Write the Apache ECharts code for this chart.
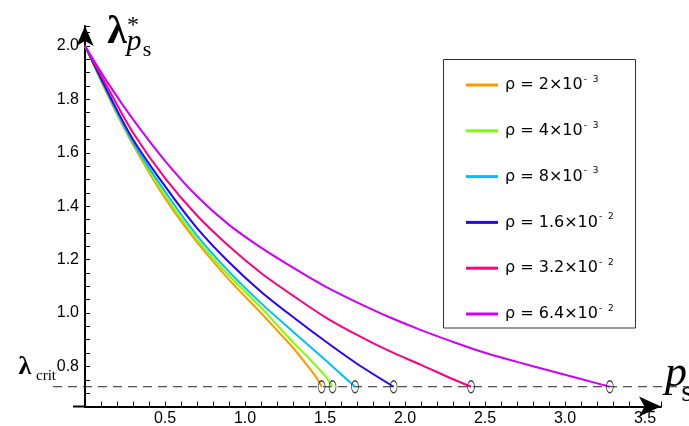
<!DOCTYPE html>
<html>
<head>
<meta charset="utf-8">
<script src="https://cdn.jsdelivr.net/npm/echarts@6/dist/echarts.min.js"></script>
<style>
html, body { margin: 0; padding: 0; background: #fff; }
#main { width: 689px; height: 426px; }
</style>
</head>
<body>
<div id="main"></div>
<script>
// critical lambda (dashed line) and axis ticks
var lambdaCrit = 0.724;
var yLabelValues = [0.8, 1.0, 1.2, 1.4, 1.6, 1.8, 2.0];
var xLabelValues = [0.5, 1.0, 1.5, 2.0, 2.5, 3.0, 3.5];

// legend text: mantissa + exponent
var rhoNames = ['ρ = 2×10', 'ρ = 4×10', 'ρ = 8×10', 'ρ = 1.6×10', 'ρ = 3.2×10', 'ρ = 6.4×10'];
var rhoExps = ['-3', '-3', '-3', '-2', '-2', '-2'];
var colors = ['#ff9900', '#80ff00', '#00bfff', '#2a00ff', '#ff0080', '#cc00ff'];

// curves (p_s, lambda*)
var x1 = [0, 0.15, 0.3, 0.5, 0.7, 0.9, 1.1, 1.2, 1.3, 1.4, 1.45, 1.479];
var y1 = [2.0, 1.805, 1.63, 1.43, 1.265, 1.125, 1.0, 0.935, 0.87, 0.795, 0.755, 0.724];

var x2 = [0, 0.15, 0.3, 0.5, 0.7, 0.9, 1.1, 1.2, 1.3, 1.4, 1.5, 1.547];
var y2 = [2.0, 1.808, 1.635, 1.44, 1.275, 1.14, 1.02, 0.955, 0.89, 0.83, 0.765, 0.724];

var x3 = [0, 0.15, 0.3, 0.5, 0.7, 0.9, 1.1, 1.3, 1.5, 1.6875];
var y3 = [2.0, 1.812, 1.638, 1.455, 1.29, 1.155, 1.037, 0.93, 0.825, 0.724];

var x4 = [0, 0.15, 0.3, 0.5, 0.7, 0.9, 1.1, 1.3, 1.5, 1.7, 1.929];
var y4 = [2.0, 1.818, 1.65, 1.475, 1.318, 1.19, 1.08, 0.985, 0.895, 0.81, 0.724];

var x5 = [0, 0.15, 0.3, 0.5, 0.7, 0.9, 1.1, 1.3, 1.5, 1.7, 1.9, 2.1, 2.3, 2.4125];
var y5 = [2.0, 1.835, 1.675, 1.505, 1.365, 1.25, 1.15, 1.065, 0.985, 0.918, 0.858, 0.806, 0.752, 0.724];

var x6 = [0, 0.15, 0.3, 0.5, 0.7, 0.9, 1.1, 1.3, 1.5, 1.7, 1.9, 2.1, 2.3, 2.5, 2.7, 2.9, 3.1, 3.28];
var y6 = [2.0, 1.855, 1.725, 1.57, 1.437, 1.33, 1.245, 1.17, 1.10, 1.04, 0.985, 0.936, 0.892, 0.851, 0.817, 0.785, 0.753, 0.724];

var xs = [x1, x2, x3, x4, x5, x6];
var ys = [y1, y2, y3, y4, y5, y6];

function pairs(a, b) {
    var out = [];
    for (var i = 0; i < a.length; i++) {
        out.push([a[i], b[i]]);
    }
    return out;
}

function hasValue(list, v) {
    for (var i = 0; i < list.length; i++) {
        if (Math.abs(list[i] - v) < 1e-6) return true;
    }
    return false;
}

// open ellipse marker
var ellipse = 'path://M0.5,0 C0.776,0 1,0.448 1,1 C1,1.552 0.776,2 0.5,2 C0.224,2 0,1.552 0,1 C0,0.448 0.224,0 0.5,0 Z';

var series = [];
var endPoints = [];
for (var k = 0; k < xs.length; k++) {
    series.push({
        name: rhoNames[k] + rhoExps[k],
        type: 'line',
        data: pairs(xs[k], ys[k]),
        showSymbol: false,
        smooth: 0.3,
        lineStyle: { color: colors[k], width: 2 },
        itemStyle: { color: colors[k] },
        z: 3
    });
    endPoints.push([xs[k][xs[k].length - 1], lambdaCrit]);
}
series.push({
    type: 'scatter',
    data: endPoints,
    symbol: ellipse,
    symbolSize: [7, 12],
    itemStyle: { color: 'rgba(0,0,0,0)', borderColor: '#111', borderWidth: 1 },
    z: 4
});

var chart = echarts.init(document.getElementById('main'));

var option = {
    animation: false,
    backgroundColor: '#fff',
    grid: { left: 85, right: 28, top: 25.9, bottom: 19.5, outerBoundsMode: 'none' },
    legend: {
        orient: 'vertical',
        left: 461,
        top: 70,
        itemGap: 27.8,
        itemWidth: 32,
        itemHeight: 3,
        icon: 'rect',
        data: series.slice(0, 6).map(function (s) { return s.name; }),
        formatter: function (name) {
            for (var i = 0; i < rhoNames.length; i++) {
                if (name === rhoNames[i] + rhoExps[i]) {
                    return '{a|' + rhoNames[i] + '}{s|' + rhoExps[i].replace('-', '-  ') + '}';
                }
            }
            return name;
        },
        textStyle: {
            rich: {
                a: { fontSize: 16, fontFamily: 'DejaVu Sans', color: '#000', lineHeight: 20, padding: [0, 0, 0, 2] },
                s: { fontSize: 9, fontFamily: 'DejaVu Sans', color: '#000', verticalAlign: 'top', lineHeight: 20, padding: [0, 0, 0, 1] }
            }
        }
    },
    xAxis: {
        type: 'value',
        min: 0,
        max: 3.6,
        interval: 0.1,
        splitLine: { show: false },
        axisLine: { onZero: false, lineStyle: { color: '#000', width: 2 }, symbol: ['none', 'arrow'], symbolSize: [15, 22] },
        axisTick: { inside: true, length: 5, lineStyle: { color: '#000', width: 1 } },
        axisLabel: {
            margin: 4,
            fontSize: 16,
            fontFamily: 'Liberation Sans',
            color: '#000',
            formatter: function (v) {
                return hasValue(xLabelValues, v) ? v.toFixed(1) : '';
            }
        }
    },
    yAxis: {
        type: 'value',
        min: 0.65,
        max: 2.075,
        interval: 0.05,
        splitLine: { show: false },
        axisLine: { onZero: false, lineStyle: { color: '#000', width: 2 }, symbol: ['none', 'arrow'], symbolSize: [13, 20] },
        axisTick: { inside: true, length: 5, lineStyle: { color: '#000', width: 1 } },
        axisLabel: {
            margin: 6,
            fontSize: 16,
            fontFamily: 'Liberation Sans',
            color: '#000',
            formatter: function (v) {
                return hasValue(yLabelValues, v) ? v.toFixed(1) : '';
            }
        }
    },
    series: series
};

chart.setOption(option);

// annotations positioned from the axes
var yCrit = chart.convertToPixel({ yAxisIndex: 0 }, lambdaCrit);
var yBase = chart.convertToPixel({ yAxisIndex: 0 }, 0.65);
var xZero = chart.convertToPixel({ xAxisIndex: 0 }, 0);

chart.setOption({
    graphic: [
        {
            type: 'line', z: 1,
            shape: { x1: 53, y1: yCrit, x2: 689, y2: yCrit },
            style: { stroke: '#222', lineWidth: 1, lineDash: [9, 6] }
        },
        {
            type: 'line', z: 1,
            shape: { x1: xZero - 12, y1: yBase, x2: xZero, y2: yBase },
            style: { stroke: '#000', lineWidth: 2 }
        },
        {
            type: 'rect', z: 1,
            shape: { x: 443.5, y: 59.5, width: 192, height: 268.5 },
            style: { fill: 'none', stroke: '#333', lineWidth: 1 }
        },
        // y axis title: lambda*_{p_s}
        { type: 'text', x: 117, y: 33, style: { text: 'λ', font: 'bold 40px "Liberation Serif"', fill: '#000', align: 'center', verticalAlign: 'middle' } },
        { type: 'text', x: 133, y: 26, style: { text: '*', font: '24px "Liberation Serif"', fill: '#000', align: 'center', verticalAlign: 'middle' } },
        { type: 'text', x: 134, y: 42, style: { text: 'p', font: 'italic 30px "Liberation Serif"', fill: '#000', align: 'center', verticalAlign: 'middle' } },
        { type: 'text', x: 147, y: 50, style: { text: 's', font: '22px "Liberation Serif"', fill: '#000', align: 'center', verticalAlign: 'middle' } },
        // lambda_crit
        { type: 'text', x: 25, y: 367, style: { text: 'λ', font: 'bold 26px "Liberation Serif"', fill: '#000', align: 'center', verticalAlign: 'middle' } },
        { type: 'text', x: 36, y: 376, style: { text: 'crit', font: '15px "Liberation Serif"', fill: '#000', align: 'left', verticalAlign: 'middle' } },
        // x axis title p_s
        { type: 'text', x: 676, y: 374, style: { text: 'p', font: 'italic 44px "Liberation Serif"', fill: '#000', align: 'center', verticalAlign: 'middle' } },
        { type: 'text', x: 687, y: 393, style: { text: 's', font: '30px "Liberation Serif"', fill: '#000', align: 'center', verticalAlign: 'middle' } }
    ]
});
</script>
</body>
</html>
